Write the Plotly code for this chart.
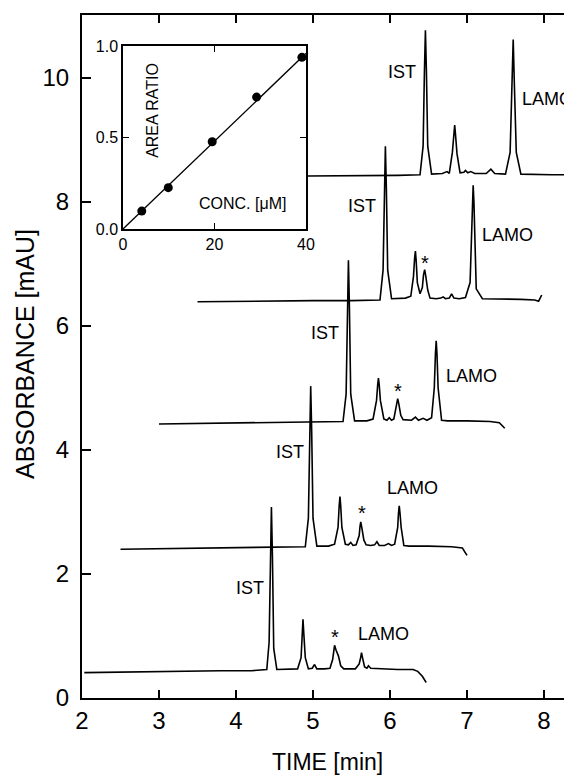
import plotly.graph_objects as go

# ---------------- data ----------------
# chromatogram 1 (bottom)
t1_x = [2.03, 2.5, 3.0, 3.4, 3.8, 4.2, 4.40, 4.43, 4.447, 4.46, 4.473, 4.49, 4.53, 4.70, 4.80, 4.845, 4.86, 4.87, 4.88,
        4.90, 4.94, 4.99, 5.02, 5.05, 5.15, 5.22, 5.255, 5.27, 5.28, 5.30, 5.33, 5.36, 5.40, 5.55, 5.60, 5.62, 5.63,
        5.645, 5.67, 5.70, 5.72, 5.75, 5.90, 6.10, 6.30, 6.36, 6.42, 6.47]
t1_y = [0.41, 0.42, 0.43, 0.44, 0.44, 0.44, 0.46, 0.90, 2.30, 3.08, 2.30, 0.80, 0.46, 0.46, 0.47, 0.65, 1.05, 1.27, 1.05,
        0.65, 0.47, 0.48, 0.54, 0.47, 0.47, 0.48, 0.62, 0.78, 0.85, 0.77, 0.68, 0.52, 0.47, 0.47, 0.55, 0.66, 0.73,
        0.64, 0.50, 0.48, 0.52, 0.48, 0.47, 0.46, 0.46, 0.43, 0.35, 0.25]

# chromatogram 2
t2_x = [2.5, 3.0, 3.5, 4.0, 4.5, 4.90, 4.94, 4.957, 4.97, 4.983, 5.00, 5.05, 5.20, 5.28, 5.325, 5.34, 5.35, 5.36,
        5.375, 5.42, 5.46, 5.49, 5.52, 5.56, 5.60, 5.61, 5.62, 5.635, 5.66, 5.69, 5.75, 5.80, 5.83, 5.86, 5.93, 5.98,
        6.02, 6.06, 6.10, 6.11, 6.12, 6.13, 6.145, 6.18, 6.25, 6.50, 6.80, 6.94, 6.97, 7.00]
t2_y = [2.40, 2.41, 2.41, 2.42, 2.43, 2.44, 2.90, 4.30, 5.03, 4.30, 2.90, 2.45, 2.45, 2.48, 2.75, 3.10, 3.25, 3.10,
        2.75, 2.48, 2.47, 2.51, 2.46, 2.47, 2.62, 2.76, 2.84, 2.74, 2.55, 2.47, 2.46, 2.47, 2.52, 2.46, 2.46, 2.49,
        2.46, 2.48, 2.75, 2.98, 3.10, 2.98, 2.75, 2.46, 2.45, 2.45, 2.44, 2.42, 2.36, 2.30]

# chromatogram 3
t3_x = [3.0, 3.5, 4.0, 4.5, 5.0, 5.39, 5.43, 5.447, 5.46, 5.473, 5.49, 5.54, 5.70, 5.78, 5.825, 5.84, 5.85, 5.86,
        5.875, 5.92, 5.96, 5.99, 6.02, 6.05, 6.08, 6.09, 6.10, 6.115, 6.14, 6.17, 6.28, 6.33, 6.37, 6.43, 6.48, 6.54,
        6.575, 6.59, 6.60, 6.61, 6.625, 6.67, 6.75, 7.00, 7.30, 7.42, 7.46, 7.49]
t3_y = [4.42, 4.43, 4.44, 4.44, 4.45, 4.46, 4.90, 6.30, 7.06, 6.30, 4.90, 4.47, 4.47, 4.50, 4.80, 5.05, 5.16, 5.05,
        4.80, 4.50, 4.48, 4.52, 4.48, 4.50, 4.68, 4.78, 4.83, 4.74, 4.56, 4.49, 4.48, 4.53, 4.48, 4.51, 4.48, 4.52,
        5.00, 5.55, 5.76, 5.55, 5.00, 4.48, 4.47, 4.47, 4.46, 4.44, 4.39, 4.35]

# chromatogram 4
t4_x = [3.5, 4.0, 4.5, 5.0, 5.5, 5.87, 5.91, 5.927, 5.94, 5.953, 5.97, 6.02, 6.20, 6.27, 6.305, 6.32, 6.33, 6.34,
        6.355, 6.39, 6.42, 6.435, 6.45, 6.465, 6.49, 6.52, 6.60, 6.66, 6.69, 6.72, 6.77, 6.80, 6.83, 6.90, 6.98, 7.04,
        7.06, 7.07, 7.08, 7.09, 7.10, 7.12, 7.20, 7.40, 7.70, 7.88, 7.93, 7.97]
t4_y = [6.39, 6.40, 6.40, 6.41, 6.41, 6.42, 6.90, 8.20, 8.90, 8.20, 6.90, 6.44, 6.45, 6.48, 6.80, 7.10, 7.21, 7.05,
        6.70, 6.52, 6.62, 6.82, 6.91, 6.80, 6.58, 6.45, 6.44, 6.45, 6.47, 6.44, 6.45, 6.52, 6.45, 6.44, 6.46, 6.70,
        7.40, 8.00, 8.27, 8.00, 7.40, 6.60, 6.44, 6.44, 6.43, 6.42, 6.40, 6.50]

# chromatogram 5 (top, partly hidden behind the inset)
t5_x = [4.92, 5.3, 5.7, 6.1, 6.39, 6.43, 6.447, 6.46, 6.473, 6.49, 6.54, 6.68, 6.74, 6.77, 6.81, 6.83, 6.84, 6.85,
        6.87, 6.91, 6.96, 6.98, 7.01, 7.05, 7.10, 7.25, 7.31, 7.36, 7.50, 7.56, 7.585, 7.60, 7.615, 7.64, 7.70, 7.90,
        8.10, 8.36]
t5_y = [8.42, 8.42, 8.43, 8.43, 8.44, 8.90, 10.10, 10.77, 10.10, 8.90, 8.45, 8.46, 8.49, 8.46, 8.80, 9.12, 9.24, 9.10,
        8.78, 8.47, 8.48, 8.51, 8.47, 8.49, 8.46, 8.46, 8.53, 8.46, 8.45, 8.80, 9.90, 10.62, 9.90, 8.80, 8.45, 8.44,
        8.44, 8.44]

traces_x = [t1_x, t2_x, t3_x, t4_x, t5_x]
traces_y = [t1_y, t2_y, t3_y, t4_y, t5_y]

# inset calibration
conc = [4.1, 9.9, 19.5, 29.2, 39.1]
area_ratio = [0.098, 0.226, 0.477, 0.721, 0.938]
fit_x = [0, 40]
fit_y = [0, 0.96]

# peak labels: (text, x, y)
peak_labels = [
    ("IST", 4.18, 1.78), ("*", 5.29, 0.98), ("LAMO", 5.92, 1.03),
    ("IST", 4.70, 3.97), ("*", 5.63, 2.98), ("LAMO", 6.29, 3.38),
    ("IST", 5.15, 5.88), ("*", 6.10, 4.95), ("LAMO", 7.06, 5.19),
    ("IST", 5.64, 7.94), ("*", 6.45, 7.02), ("LAMO", 7.52, 7.47),
    ("IST", 6.16, 10.09), ("LAMO", 8.02, 9.66),
]

main_ticks = [0, 2, 4, 6, 8, 10]
time_ticks = [2, 3, 4, 5, 6, 7, 8]
inset_xticks = [0, 20, 40]
inset_yticks = [0.0, 0.5, 1.0]
inset_ytext = ["0.0", "0.5", "1.0"]

# ---------------- figure ----------------
FONT = "Arial, Liberation Sans, Helvetica, sans-serif"
fig = go.Figure()

for xs, ys in zip(traces_x, traces_y):
    fig.add_trace(go.Scatter(x=xs, y=ys, mode="lines",
                             line=dict(color="black", width=1.6),
                             showlegend=False, hoverinfo="skip"))

fig.add_trace(go.Scatter(x=fit_x, y=fit_y, mode="lines", xaxis="x2", yaxis="y2",
                         line=dict(color="black", width=1.3), showlegend=False))
fig.add_trace(go.Scatter(x=conc, y=area_ratio, mode="markers", xaxis="x2", yaxis="y2",
                         marker=dict(color="black", size=9), showlegend=False))

annotations = []
for txt, x, y in peak_labels:
    if txt == "*":
        annotations.append(dict(text=txt, x=x, y=y, xref="x", yref="y", showarrow=False,
                                font=dict(family=FONT, size=20, color="black")))
    elif txt == "LAMO" and x > 8:
        annotations.append(dict(text=txt, x=7.69, y=y, xref="x", yref="y", showarrow=False,
                                xanchor="left", font=dict(family=FONT, size=18, color="black")))
    else:
        annotations.append(dict(text=txt, x=x, y=y, xref="x", yref="y", showarrow=False,
                                font=dict(family=FONT, size=18, color="black")))

annotations.append(dict(text="AREA RATIO", x=6.3, y=0.65, xref="x2", yref="y2", showarrow=False,
                        textangle=-90, font=dict(family=FONT, size=16, color="black")))
annotations.append(dict(text="CONC. [\u03bcM]", x=26.2, y=0.14, xref="x2", yref="y2", showarrow=False,
                        font=dict(family=FONT, size=16, color="black")))
# axis titles
annotations.append(dict(text="TIME [min]", x=0.5, y=(698 - 762) / 683, xref="paper", yref="paper",
                        showarrow=False, yanchor="middle", font=dict(family=FONT, size=23, color="black")))
annotations.append(dict(text="ABSORBANCE [mAU]", x=(25 - 82) / 490, y=(698 - 354) / 683, xref="paper",
                        yref="paper", showarrow=False, textangle=-90, xanchor="center", yanchor="middle",
                        font=dict(family=FONT, size=25, color="black")))

inset_x0 = (123 - 82) / 490
inset_x1 = (306 - 82) / 490
inset_y0 = (698 - 229) / 683
inset_y1 = (698 - 46) / 683

# the page body adds an 8 px offset, so the figure is 8 px smaller and shifted
fig.update_layout(
    width=564, height=768,
    margin=dict(l=74, r=0, t=7, b=78),
    paper_bgcolor="white", plot_bgcolor="white",
    font=dict(family=FONT, color="black"),
    showlegend=False,
    annotations=annotations,
    shapes=[dict(type="rect", xref="paper", yref="paper",
                 x0=inset_x0, x1=inset_x1, y0=inset_y0, y1=inset_y1,
                 fillcolor="white", line=dict(width=0), layer="below")],
    xaxis=dict(range=[2, 2 + 490 / 77], tickvals=time_ticks, ticks="inside", ticklen=8,
               tickwidth=1.5, tickcolor="black", showline=True, linecolor="black", linewidth=2,
               mirror="ticks", showgrid=False, zeroline=False, automargin=False,
               tickfont=dict(size=24, family=FONT)),
    yaxis=dict(range=[0, 683 / 62], tickvals=main_ticks, ticks="inside", ticklen=9,
               tickwidth=1.5, tickcolor="black", showline=True, linecolor="black", linewidth=2,
               mirror=False, showgrid=False, zeroline=False, automargin=False,
               ticklabelstandoff=6, tickfont=dict(size=24, family=FONT)),
    xaxis2=dict(domain=[inset_x0, inset_x1], anchor="y2", range=[0, 40], tickvals=inset_xticks,
                ticks="inside", ticklen=6, tickcolor="black", showline=True, linecolor="black",
                linewidth=1.5, mirror="ticks", showgrid=False, zeroline=False, automargin=False,
                tickfont=dict(size=16, family=FONT)),
    yaxis2=dict(domain=[inset_y0, inset_y1], anchor="x2", range=[0, 1.0], tickvals=inset_yticks,
                ticktext=inset_ytext, ticks="inside", ticklen=6, tickcolor="black", showline=True,
                linecolor="black", linewidth=1.5, mirror="ticks", showgrid=False, zeroline=False,
                automargin=False, tickfont=dict(size=16, family=FONT)),
)

fig.write_html("out.html")
